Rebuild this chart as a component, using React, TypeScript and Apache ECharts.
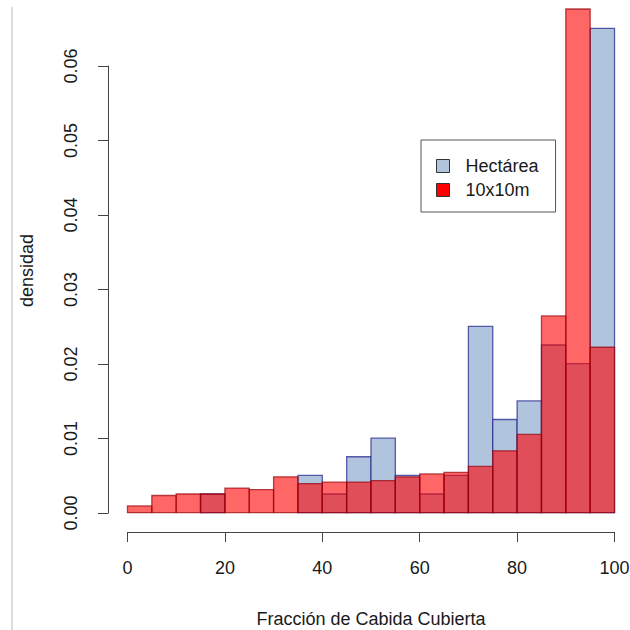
import React, { useEffect, useRef } from "react";
import * as echarts from "echarts";

const binEdges = [0, 5, 10, 15, 20, 25, 30, 35, 40, 45, 50, 55, 60, 65, 70, 75, 80, 85, 90, 95, 100];
const hectarea = [0, 0, 0, 0.0025, 0, 0, 0, 0.005, 0.0025, 0.0075, 0.01, 0.005, 0.0025, 0.005, 0.025, 0.0125, 0.015, 0.0225, 0.02, 0.065];
const diezPorDiez = [0.0009, 0.0023, 0.0025, 0.0025, 0.0033, 0.0031, 0.0048, 0.0039, 0.0041, 0.0041, 0.0043, 0.0048, 0.0052, 0.0054, 0.0062, 0.0083, 0.0105, 0.0264, 0.075, 0.0222];
const xTicks = { min: 0, max: 100, interval: 20 };
const yTicks = { min: 0, max: 0.06, interval: 0.01 };

const FONT = "'Liberation Sans', Arial, sans-serif";
const TEXT = "#1a1a1a";
const AXIS = "#444";

function toItems(values: number[]) {
  return values.map((v, i) => [binEdges[i], binEdges[i + 1], v]);
}

function makeRender(fill: string, stroke: string) {
  return (params: any, api: any) => {
    const x0 = api.value(0);
    const x1 = api.value(1);
    const v = api.value(2);
    if (!v) return null;
    const p0 = api.coord([x0, v]);
    const p1 = api.coord([x1, 0]);
    const cs = params.coordSys;
    let top = p0[1];
    if (top < cs.y) top = cs.y;
    return {
      type: "rect",
      shape: { x: p0[0], y: top, width: p1[0] - p0[0], height: p1[1] - top },
      style: { fill, stroke, lineWidth: 1.3 },
    };
  };
}

export default function App() {
  const ref = useRef<HTMLDivElement>(null);
  useEffect(() => {
    if (!ref.current) return;
    const chart = echarts.init(ref.current, null, { renderer: "svg" });
    const option: any = {
      animation: false,
      backgroundColor: "#ffffff",
      textStyle: { fontFamily: FONT },
      grid: [
        { left: 108, top: 9, width: 526, height: 523, outerBoundsMode: "none", containLabel: false },
        { left: 127.5, top: 9, width: 487, height: 523, outerBoundsMode: "none", containLabel: false },
        { left: 108, top: 66, width: 487, height: 447, outerBoundsMode: "none", containLabel: false },
      ],
      xAxis: [
        { gridIndex: 0, type: "value", min: -4, max: 104, show: false },
        {
          gridIndex: 1,
          type: "value",
          min: xTicks.min,
          max: xTicks.max,
          interval: xTicks.interval,
          splitLine: { show: false },
          axisLine: { show: true, lineStyle: { color: AXIS, width: 1 } },
          axisTick: { show: true, length: 10, lineStyle: { color: AXIS, width: 1 } },
          axisLabel: { margin: 27, fontSize: 18, color: TEXT, fontFamily: FONT },
          name: "Fracción de Cabida Cubierta",
          nameLocation: "middle",
          nameGap: 78,
          nameTextStyle: { fontSize: 18, color: TEXT, fontFamily: FONT },
        },
        { gridIndex: 2, type: "value", min: 0, max: 100, show: false },
      ],
      yAxis: [
        {
          gridIndex: 0,
          type: "value",
          min: -0.0026,
          max: 0.0676,
          show: true,
          axisLine: { show: false },
          axisTick: { show: false },
          axisLabel: { show: false },
          splitLine: { show: false },
          name: "densidad",
          nameLocation: "middle",
          nameGap: 72,
          nameTextStyle: { fontSize: 18, color: TEXT, fontFamily: FONT },
        },
        { gridIndex: 1, type: "value", min: 0, max: 1, show: false },
        {
          gridIndex: 2,
          type: "value",
          min: yTicks.min,
          max: yTicks.max,
          interval: yTicks.interval,
          splitLine: { show: false },
          axisLine: { show: true, lineStyle: { color: AXIS, width: 1 } },
          axisTick: { show: true, length: 10, lineStyle: { color: AXIS, width: 1 } },
          axisLabel: {
            rotate: 90,
            margin: 28,
            fontSize: 18,
            color: TEXT,
            fontFamily: FONT,
            formatter: (v: number) => v.toFixed(2),
          },
        },
      ],
      legend: {
        left: 421,
        top: 140,
        orient: "vertical",
        padding: [17, 17, 13, 15],
        itemGap: 6,
        itemWidth: 13,
        itemHeight: 13,
        icon: "rect",
        borderColor: "#555",
        borderWidth: 1,
        backgroundColor: "#fff",
        selectedMode: false,
        textStyle: { fontSize: 18, color: TEXT, fontFamily: FONT, padding: [0, 0, 0, 11] },
        data: [
          { name: "Hectárea", itemStyle: { color: "#B0C4DE", borderColor: "#333", borderWidth: 1 } },
          { name: "10x10m", itemStyle: { color: "#FF0000", borderColor: "#333", borderWidth: 1 } },
        ],
      },
      graphic: [
        {
          type: "line",
          shape: { x1: 12, y1: 7, x2: 12, y2: 630 },
          style: { stroke: "#bbb", lineWidth: 1 },
          silent: true,
        },
      ],
      series: [
        {
          name: "Hectárea",
          type: "custom",
          xAxisIndex: 0,
          yAxisIndex: 0,
          renderItem: makeRender("#B0C4DE", "rgba(40,40,140,0.75)"),
          encode: { x: [0, 1], y: 2 },
          data: toItems(hectarea),
          itemStyle: { color: "#B0C4DE" },
          z: 2,
        },
        {
          name: "10x10m",
          type: "custom",
          xAxisIndex: 0,
          yAxisIndex: 0,
          renderItem: makeRender("rgba(255,0,0,0.6)", "rgba(150,0,10,0.7)"),
          encode: { x: [0, 1], y: 2 },
          data: toItems(diezPorDiez),
          itemStyle: { color: "#FF0000" },
          z: 3,
        },
      ],
    };
    chart.setOption(option);
    return () => chart.dispose();
  }, []);
  return (
    <div
      ref={ref}
      style={{ position: "absolute", left: 0, top: 0, width: 630, height: 630 }}
    />
  );
}
